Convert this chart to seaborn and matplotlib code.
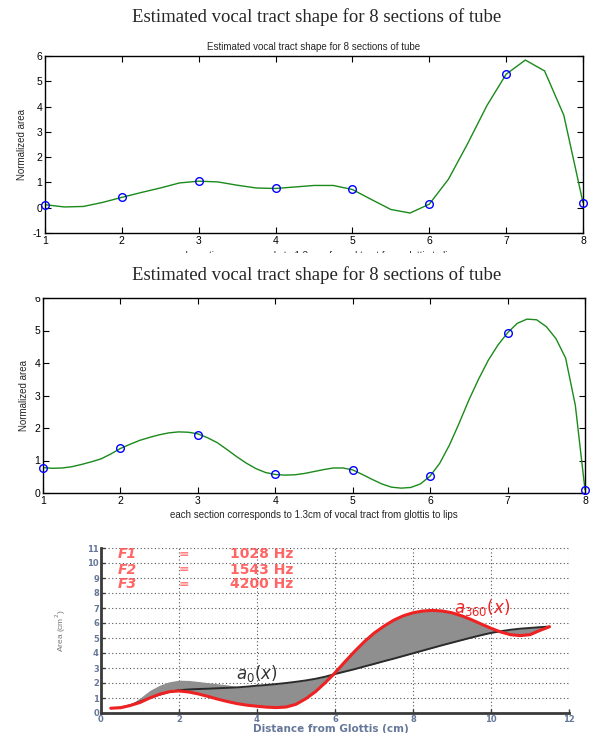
import matplotlib
matplotlib.use("Agg")
import matplotlib.pyplot as plt
import seaborn as sns
from matplotlib.patches import Rectangle

# ---- data ----
sections = [1, 2, 3, 4, 5, 6, 7, 8]

# panel 1 (estimate A)
area_est_a = [0.12, 0.42, 1.05, 0.77, 0.73, 0.15, 5.27, 0.20]
curve_x_a = [1.0, 1.25, 1.5, 1.75, 2.0, 2.25, 2.5, 2.75, 3.0, 3.25, 3.5, 3.75,
             4.0, 4.25, 4.5, 4.75, 5.0, 5.25, 5.5, 5.75, 6.0, 6.25, 6.5, 6.75,
             7.0, 7.25, 7.5, 7.75, 8.0]
curve_a = [0.12, 0.03, 0.05, 0.21, 0.41, 0.60, 0.78, 0.98, 1.05, 1.02, 0.89, 0.78,
           0.76, 0.82, 0.88, 0.88, 0.72, 0.32, -0.07, -0.21, 0.14, 1.13, 2.54, 4.04,
           5.28, 5.84, 5.41, 3.66, 0.20]

# panel 2 (estimate B)
area_est_b = [0.78, 1.37, 1.80, 0.57, 0.71, 0.52, 4.93, 0.10]
curve_x_b = [1.0, 1.125, 1.25, 1.375, 1.5, 1.625, 1.75, 1.875, 2.0, 2.125, 2.25,
             2.375, 2.5, 2.625, 2.75, 2.875, 3.0, 3.125, 3.25, 3.375, 3.5, 3.625,
             3.75, 3.875, 4.0, 4.125, 4.25, 4.375, 4.5, 4.625, 4.75, 4.875, 5.0,
             5.125, 5.25, 5.375, 5.5, 5.625, 5.75, 5.875, 6.0, 6.125, 6.25, 6.375,
             6.5, 6.625, 6.75, 6.875, 7.0, 7.125, 7.25, 7.375, 7.5, 7.625, 7.75,
             7.875, 8.0]
curve_b = [0.78, 0.76, 0.77, 0.81, 0.88, 0.96, 1.05, 1.20, 1.37, 1.50, 1.62,
           1.71, 1.79, 1.85, 1.88, 1.87, 1.82, 1.70, 1.55, 1.34, 1.12, 0.92,
           0.75, 0.63, 0.57, 0.55, 0.56, 0.60, 0.66, 0.72, 0.77, 0.77, 0.71,
           0.57, 0.42, 0.28, 0.18, 0.15, 0.17, 0.28, 0.52, 0.92, 1.48, 2.15,
           2.86, 3.50, 4.08, 4.55, 4.93, 5.22, 5.35, 5.33, 5.12, 4.75, 4.15,
           2.70, 0.10]

# panel 3 (area functions vs distance from glottis)
dist_cm = [0.25, 0.5, 0.75, 1.0, 1.25, 1.5, 1.75, 2.0, 2.25, 2.5, 2.75, 3.0,
           3.25, 3.5, 3.75, 4.0, 4.25, 4.5, 4.75, 5.0, 5.25, 5.5, 5.75, 6.0,
           6.25, 6.5, 6.75, 7.0, 7.25, 7.5, 7.75, 8.0, 8.25, 8.5, 8.75, 9.0,
           9.25, 9.5, 9.75, 10.0, 10.25, 10.5, 10.75, 11.0, 11.25, 11.5]
a0 = [0.32, 0.36, 0.52, 0.76, 1.00, 1.22, 1.40, 1.52, 1.57, 1.60, 1.62, 1.65,
      1.68, 1.71, 1.76, 1.82, 1.87, 1.93, 2.00, 2.08, 2.17, 2.28, 2.42, 2.60,
      2.76, 2.92, 3.10, 3.27, 3.45, 3.62, 3.80, 3.98, 4.16, 4.34, 4.52, 4.69,
      4.86, 5.03, 5.19, 5.34, 5.45, 5.55, 5.62, 5.67, 5.72, 5.76]
a360 = [0.32, 0.35, 0.50, 0.70, 1.00, 1.25, 1.42, 1.47, 1.40, 1.27, 1.10, 0.92,
        0.76, 0.62, 0.52, 0.45, 0.39, 0.36, 0.40, 0.58, 0.95, 1.42, 2.02, 2.68,
        3.40, 4.10, 4.75, 5.32, 5.78, 6.18, 6.48, 6.68, 6.80, 6.84, 6.80, 6.68,
        6.48, 6.22, 5.93, 5.65, 5.40, 5.22, 5.16, 5.22, 5.50, 5.75]
# upper edge of the grey band near the glottis
band_x = [0.75, 1.0, 1.25, 1.5, 1.75, 2.0, 2.25, 2.5, 2.75, 3.0, 3.25, 3.5]
band_top = [0.55, 1.00, 1.50, 1.85, 2.08, 2.19, 2.17, 2.10, 2.02, 1.95, 1.87, 1.76]

formant_names = ["F1", "F2", "F3"]
formant_values = ["1028 Hz", "1543 Hz", "4200 Hz"]
formant_rows = [10.57, 9.55, 8.58]

title = "Estimated vocal tract shape for 8 sections of tube"
xlabel_sec = "each section corresponds to 1.3cm of vocal tract from glottis to lips"

# ---- figure ----
W, H = 593, 733
sns.set_theme(style="ticks")
plt.rcParams["font.family"] = ["Liberation Sans", "DejaVu Sans"]
plt.rcParams["mathtext.fontset"] = "dejavusans"
plt.rcParams["axes.unicode_minus"] = False

fig = plt.figure(figsize=(W / 100, H / 100), dpi=100)


def box(l, t, r, b):
    return [l / W, 1 - b / H, (r - l) / W, (b - t) / H]


def matlab_axes(ax):
    for s in ax.spines.values():
        s.set_color("black")
        s.set_linewidth(1.0)
    ax.tick_params(direction="in", top=True, right=True, length=4, width=0.8,
                   labelsize=7.5, pad=2, colors="black")
    ax.set_xticks(sections)


green = "#1a8a1a"

# panel 1
ax1 = fig.add_axes(box(45, 56, 583, 233))
sns.lineplot(x=curve_x_a, y=curve_a, ax=ax1, color=green, lw=1.0,
             estimator=None, sort=False)
ax1.plot(sections, area_est_a, "o", mfc="none", mec="blue", ms=5.5, mew=1.0,
         clip_on=False, zorder=5)
ax1.set_xlim(1, 8)
ax1.set_ylim(-1, 6)
matlab_axes(ax1)
ax1.set_yticks(range(-1, 7))
ax1.set_title(title, fontsize=7, pad=4)
ax1.set_ylabel("Normalized area", fontsize=7, labelpad=4)
ax1.set_xlabel(xlabel_sec, fontsize=7, labelpad=4)

# panel 2
ax2 = fig.add_axes(box(43, 298, 585, 493))
sns.lineplot(x=curve_x_b, y=curve_b, ax=ax2, color=green, lw=1.0,
             estimator=None, sort=False)
ax2.plot(sections, area_est_b, "o", mfc="none", mec="blue", ms=5.5, mew=1.0,
         clip_on=False, zorder=5)
ax2.set_xlim(1, 8)
ax2.set_ylim(0, 6)
matlab_axes(ax2)
ax2.set_yticks(range(0, 7))
ax2.set_ylabel("Normalized area", fontsize=7, labelpad=4)
ax2.set_xlabel(xlabel_sec, fontsize=7, labelpad=3)

# serif titles of the two cropped figures
for ty in (17, 275):
    fig.text(317 / W, 1 - ty / H, title, family="Liberation Serif",
             fontsize=13.5, ha="center", va="center")

# panel 3
ax3 = fig.add_axes(box(101, 548, 569, 713))
lo = [min(p, q) for p, q in zip(a0, a360)]
hi = [max(p, q) for p, q in zip(a0, a360)]
ax3.fill_between(dist_cm, lo, hi, color="#8f8f8f", lw=0, zorder=2)
ax3.fill_between(band_x, a360[2:14], band_top, color="#8f8f8f", lw=0, zorder=2)
sns.lineplot(x=dist_cm, y=a0, ax=ax3, color="#2b2b2b", lw=1.4,
             estimator=None, sort=False, zorder=3)
sns.lineplot(x=dist_cm, y=a360, ax=ax3, color="#ee2222", lw=2.2,
             estimator=None, sort=False, zorder=4)
ax3.set_xlim(0, 12)
ax3.set_ylim(0, 11)
ax3.set_xticks(range(0, 13, 2))
ax3.set_yticks(range(0, 12))
ax3.grid(True, color="#555555", lw=0.8, linestyle=(0, (1, 2.2)), zorder=1)
for side in ("top", "right"):
    ax3.spines[side].set_visible(False)
for side in ("left", "bottom"):
    ax3.spines[side].set_color("#3a3a3a")
    ax3.spines[side].set_linewidth(2.0)
tick_col = "#66789a"
ax3.tick_params(direction="in", length=3, width=1, colors="#3a3a3a",
                labelcolor=tick_col, labelsize=6, pad=1.5)
for lab in ax3.get_xticklabels() + ax3.get_yticklabels():
    lab.set_fontfamily("DejaVu Sans")
    lab.set_fontweight("bold")
ax3.set_ylabel("Area (cm$^2$)", fontsize=6, color="#777777", labelpad=14)
fig.text(331 / W, 1 - 728.5 / H, "Distance from Glottis (cm)", family="DejaVu Sans",
         fontweight="bold", fontsize=7.5, color=tick_col, ha="center", va="center")

red_txt = "#ff4a4a"
for name, val, yy in zip(formant_names, formant_values, formant_rows):
    ax3.text(0.42, yy, name, fontsize=10, fontweight="bold", style="italic",
             family="DejaVu Sans", color=red_txt, va="center", alpha=0.85)
    ax3.text(2.0, yy, "=", fontsize=9, fontweight="bold", family="DejaVu Sans",
             color=red_txt, va="center", alpha=0.7)
    ax3.text(3.3, yy, val, fontsize=10, fontweight="bold", family="DejaVu Sans",
             color=red_txt, va="center", alpha=0.85)
ax3.text(3.45, 2.65, r"$a_0(x)$", fontsize=12, color="#333333", va="center")
ax3.text(9.05, 7.05, r"$a_{360}(x)$", fontsize=12, color="#ee2222", va="center")

# crop edges of the pasted screenshots
fig.add_artist(Rectangle((0, 1 - 262 / H), 1, 9 / H, transform=fig.transFigure,
                         facecolor="white", edgecolor="none", zorder=20))
fig.add_artist(Rectangle((0, 1 - 296.5 / H), 1, 9 / H, transform=fig.transFigure,
                         facecolor="white", edgecolor="none", zorder=20))

fig.savefig("out.png", dpi=100)
